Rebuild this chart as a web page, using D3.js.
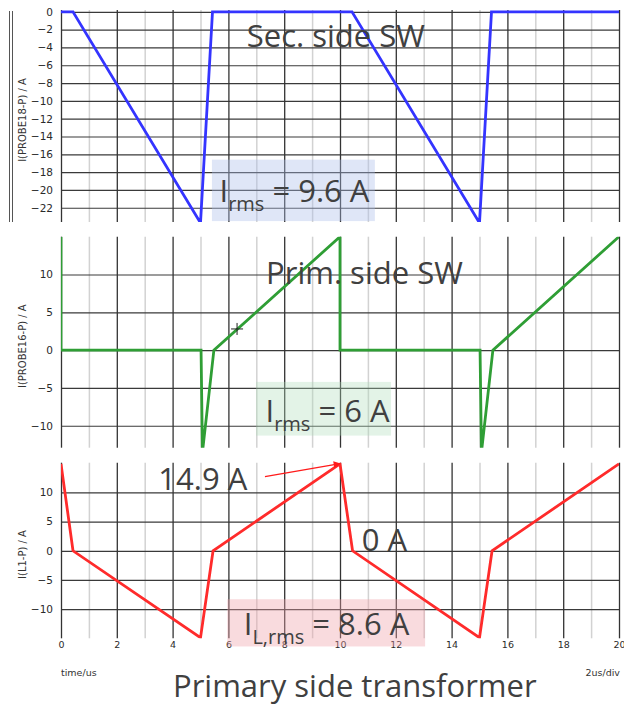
<!DOCTYPE html>
<html>
<head>
<meta charset="utf-8">
<script src="https://cdn.jsdelivr.net/npm/d3@7"></script>
<style>
  body { margin: 0; background: #fff; }
  svg { display: block; }
  .tick text { font-family: "DejaVu Sans", Verdana, sans-serif; fill: #2a2a2a; }
  .note { font-family: "Open Sans", sans-serif; fill: #404040; }
  .small { font-family: "DejaVu Sans", Verdana, sans-serif; fill: #333; }
</style>
</head>
<body>
<div id="chart"></div>
<script>
// ── Data (time in us, current in A) ─────────────────────────────────────────
const timeTicks = d3.range(0, 21, 2);
const gridTimes = d3.range(0, 21, 1);

// secondary side switch current
const secTime    = [0, 0.43, 5.0, 5.43, 10.43, 15.0, 15.43, 20];
const secCurrent = [0, 0, -23.7, 0, 0, -23.7, 0, 0];
const secTicks   = d3.range(0, -23, -2);

// primary side switch current
const primTime    = [0, 0, 5.02, 5.07, 5.48, 10.0, 10.0, 15.02, 15.07, 15.48, 20];
const primCurrent = [15, 0, 0, -13.5, 0, 15, 0, 0, -13.5, 0, 15];
const primTicks   = [10, 5, 0, -5, -10];

// transformer primary (L1) current
const lTime    = [0, 0.43, 5.0, 5.45, 10.0, 10.45, 15.0, 15.45, 20];
const lCurrent = [14.9, 0, -14.9, 0, 14.9, 0, -14.9, 0, 14.9];
const lTicks   = [10, 5, 0, -5, -10];

// cursor cross on the primary trace
const cursorPoint = { t: 6.31, v: 2.8 };

// ── Layout ───────────────────────────────────────────────────────────────────
const W = 624, H = 705;
const X0 = 61, X1 = 619;

const panels = [
  { title: 'I(PROBE18-P) / A', top: 10,    bottom: 222,   domain: [0.2, -23.6],
    ticks: secTicks,  t: secTime,  v: secCurrent,  color: '#3434ff', frame: true },
  { title: 'I(PROBE16-P) / A', top: 236.7, bottom: 447.7, domain: [15, -12.9],
    ticks: primTicks, t: primTime, v: primCurrent, color: '#2f9e35' },
  { title: 'I(L1-P) / A',      top: 462.7, bottom: 638.3, domain: [15.1, -15],
    ticks: lTicks,    t: lTime,    v: lCurrent,    color: '#ff2b2b', xAxis: true }
];

// annotation boxes and labels, placed in data units of their panel
const rmsBoxes = [
  { panel: 0, t0: 5.41, t1: 11.25, v0: -16.6, v1: -23.5, fill: 'rgba(170,190,235,0.38)',
    tx: 5.68, tv: -21.3, sub: 'rms', tail: ' = 9.6 A' },
  { panel: 1, t0: 6.99, t1: 11.83, v0: -4.2, v1: -11.3, fill: 'rgba(175,220,185,0.35)',
    tx: 7.33, tv: -9.5, sub: 'rms', tail: ' = 6 A' },
  { panel: 2, t0: 5.96, t1: 13.05, v0: -8.3, v1: -16.4, fill: 'rgba(240,160,168,0.38)',
    tx: 6.55, tv: -14.4, sub: 'L,rms', tail: ' = 8.6 A' }
];
const labels = [
  { panel: 0, t: 6.66,  v: -3.9,  text: 'Sec. side SW' },
  { panel: 1, t: 7.35,  v: 8.8,   text: 'Prim. side SW' },
  { panel: 2, t: 3.49,  v: 10.45, text: '14.9 A' },
  { panel: 2, t: 10.78, v: -0.1,  text: '0 A' }
];
const arrow = { panel: 2, from: [7.31, 12.7], to: [10.0, 14.95] };

// ── Drawing ──────────────────────────────────────────────────────────────────
const svg = d3.select('#chart').append('svg').attr('width', W).attr('height', H);

const defs = svg.append('defs');
defs.append('marker')
  .attr('id', 'arrowhead')
  .attr('viewBox', '0 0 10 10').attr('refX', 9).attr('refY', 5)
  .attr('markerWidth', 9).attr('markerHeight', 7).attr('markerUnits', 'userSpaceOnUse')
  .attr('orient', 'auto')
  .append('path').attr('d', 'M0,0 L10,5 L0,10 Z').attr('fill', '#ff1a1a');

const x = d3.scaleLinear().domain([0, 20]).range([X0, X1]);

panels.forEach((p, idx) => {
  p.y = d3.scaleLinear().domain(p.domain).range([p.top, p.bottom]);
  const ph = p.bottom - p.top;
  const g = svg.append('g');

  defs.append('clipPath').attr('id', 'clip' + idx)
    .append('rect').attr('x', X0).attr('y', p.top).attr('width', X1 - X0).attr('height', ph);

  // minor vertical grid (odd us)
  g.append('g').attr('transform', `translate(0,${p.bottom})`)
    .call(d3.axisBottom(x).tickValues(gridTimes.filter(t => t % 2)).tickSize(-ph).tickFormat(''))
    .call(a => a.select('.domain').remove())
    .call(a => a.selectAll('line').attr('stroke', '#d2d2d2').attr('stroke-width', 1.5));

  // horizontal grid
  g.append('g').attr('transform', `translate(${X0},0)`)
    .call(d3.axisLeft(p.y).tickValues(p.ticks).tickSize(-(X1 - X0)).tickFormat(''))
    .call(a => a.select('.domain').remove())
    .call(a => a.selectAll('line').attr('stroke', '#3a3a3a').attr('stroke-width', 1.2));

  // major vertical grid (even us)
  g.append('g').attr('transform', `translate(0,${p.bottom})`)
    .call(d3.axisBottom(x).tickValues(timeTicks).tickSize(-ph).tickFormat(''))
    .call(a => a.select('.domain').remove())
    .call(a => a.selectAll('line').attr('stroke', '#333').attr('stroke-width', 1.3));

  // y tick labels
  g.append('g').attr('transform', `translate(${X0},0)`)
    .call(d3.axisLeft(p.y).tickValues(p.ticks).tickSize(0).tickPadding(8))
    .call(a => a.select('.domain').remove())
    .call(a => a.selectAll('text').attr('font-size', 10.5));

  // y title
  g.append('text').attr('class', 'small')
    .attr('transform', `translate(26,${(p.top + p.bottom) / 2 + 4}) rotate(-90)`)
    .attr('text-anchor', 'middle').attr('font-size', 10)
    .text(p.title);

  if (p.frame) {
    [9.5, 12.5].forEach(fx => g.append('line')
      .attr('x1', fx).attr('x2', fx).attr('y1', p.top + 1).attr('y2', p.bottom)
      .attr('stroke', '#555').attr('stroke-width', 1));
  }

  if (p.xAxis) {
    g.append('g').attr('transform', `translate(0,${p.bottom})`)
      .call(d3.axisBottom(x).tickValues(timeTicks).tickSize(0).tickPadding(3))
      .call(a => a.select('.domain').remove())
      .call(a => a.selectAll('text').attr('font-size', 9.5));
  }
});

// rms boxes (semi-transparent, above grid)
rmsBoxes.forEach(b => {
  const y = panels[b.panel].y;
  svg.append('rect')
    .attr('x', x(b.t0)).attr('y', y(b.v0))
    .attr('width', x(b.t1) - x(b.t0)).attr('height', y(b.v1) - y(b.v0))
    .attr('fill', b.fill);
});

// traces
panels.forEach((p, idx) => {
  const pts = p.t.map((t, i) => [t, p.v[i]]);
  svg.append('path')
    .attr('clip-path', `url(#clip${idx})`)
    .attr('d', d3.line().x(d => x(d[0])).y(d => p.y(d[1]))(pts))
    .attr('fill', 'none').attr('stroke', p.color)
    .attr('stroke-width', 2.8).attr('stroke-linejoin', 'miter');
});

// cursor cross
{
  const cx = x(cursorPoint.t), cy = panels[1].y(cursorPoint.v);
  svg.append('path')
    .attr('d', `M${cx - 6},${cy}H${cx + 6}M${cx},${cy - 6}V${cy + 6}`)
    .attr('stroke', '#222').attr('stroke-width', 1);
}

// rms labels with subscript
rmsBoxes.forEach(b => {
  const y = panels[b.panel].y;
  const t = svg.append('text').attr('class', 'note')
    .attr('x', x(b.tx)).attr('y', y(b.tv)).attr('font-size', 31);
  t.append('tspan').text('I');
  t.append('tspan').attr('font-size', 20).attr('dy', 9).text(b.sub);
  t.append('tspan').attr('dy', -9).text(b.tail);
});

labels.forEach(l => {
  svg.append('text').attr('class', 'note')
    .attr('x', x(l.t)).attr('y', panels[l.panel].y(l.v))
    .attr('font-size', 31)
    .text(l.text);
});

// arrow to peak
{
  const y = panels[arrow.panel].y;
  svg.append('line')
    .attr('x1', x(arrow.from[0])).attr('y1', y(arrow.from[1]))
    .attr('x2', x(arrow.to[0])).attr('y2', y(arrow.to[1]))
    .attr('stroke', '#ff1a1a').attr('stroke-width', 1.2)
    .attr('marker-end', 'url(#arrowhead)');
}

// axis captions
svg.append('text').attr('class', 'small')
  .attr('x', 61).attr('y', 676).attr('font-size', 9.5).text('time/us');
svg.append('text').attr('class', 'small')
  .attr('x', 620).attr('y', 676).attr('text-anchor', 'end').attr('font-size', 9.5).text('2us/div');

svg.append('text').attr('class', 'note')
  .attr('x', 173).attr('y', 697).attr('font-size', 31)
  .text('Primary side transformer');
</script>
</body>
</html>
